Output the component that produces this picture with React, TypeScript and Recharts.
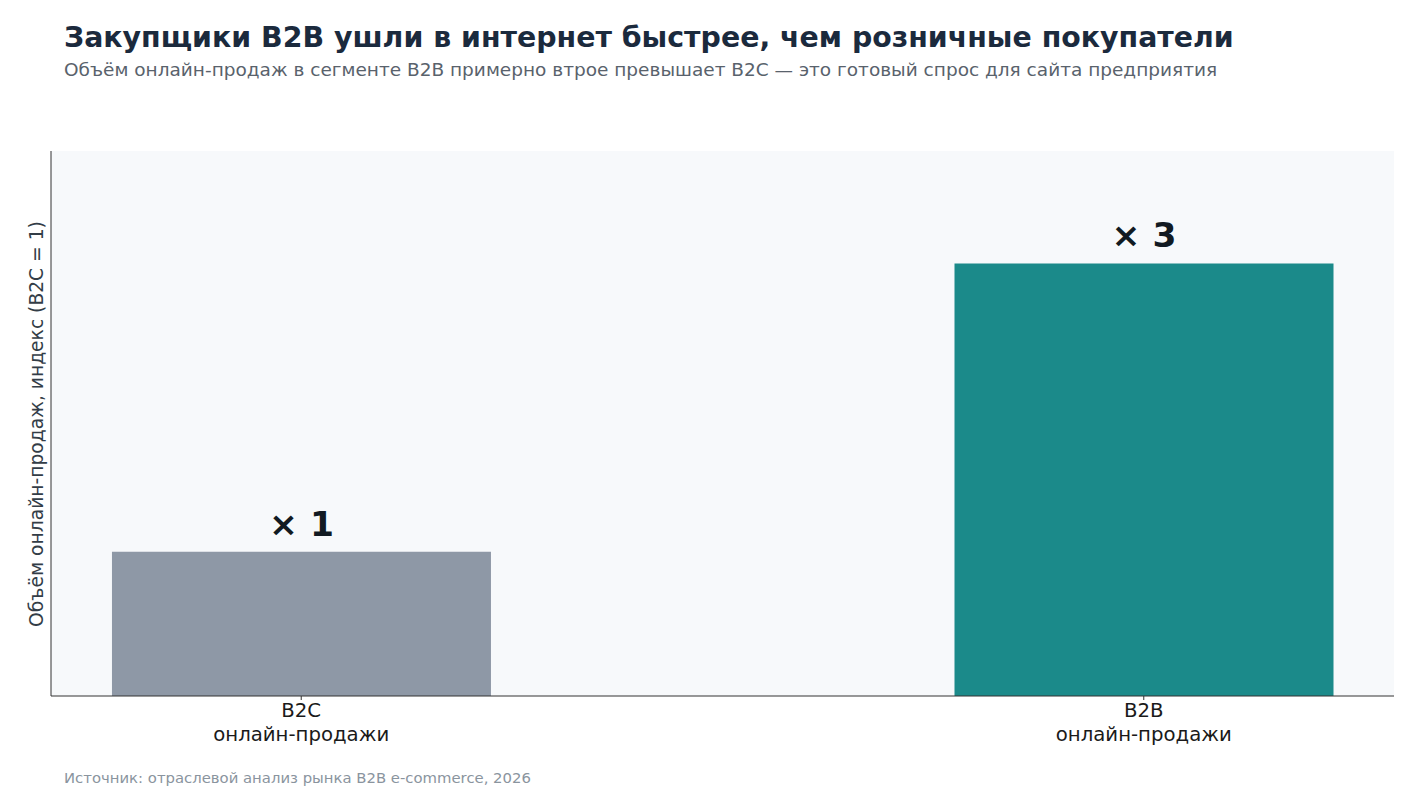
import { Bar, BarChart, CartesianGrid, Cell, LabelList, XAxis, YAxis } from "recharts";

const categories = ["B2C", "B2B"];
const subLabels = ["онлайн-продажи", "онлайн-продажи"];
const values = [1, 3];
const valueLabels = ["× 1", "× 3"];
const colors = ["#8e98a6", "#1b8a8a"];

const FONT = "'DejaVu Sans', sans-serif";

const data = categories.map((c, i) => ({
  x: i,
  name: c,
  value: values[i],
}));

function XTick(props: any) {
  const { x, y, payload } = props;
  const i = payload.value as number;
  return (
    <text x={x} y={y} textAnchor="middle" fontFamily={FONT} fontSize={19.7} fill="#1a1a1a">
      <tspan x={x} dy={15}>
        {categories[i]}
      </tspan>
      <tspan x={x} dy={24}>
        {subLabels[i]}
      </tspan>
    </text>
  );
}

function ValueLabel(props: any) {
  const { x, y, width, index } = props;
  return (
    <text
      x={x + width / 2}
      y={y - 16}
      textAnchor="middle"
      fontFamily={FONT}
      fontSize={34.5}
      fontWeight="bold"
      fill="#111a22"
    >
      {valueLabels[index]}
    </text>
  );
}

export default function App() {
  return (
    <div
      style={{
        position: "absolute",
        left: 0,
        top: 0,
        width: 1422,
        height: 800,
        background: "#ffffff",
        fontFamily: FONT,
      }}
    >
      <div
        style={{
          position: "absolute",
          left: 64,
          top: 21,
          fontSize: 28.4,
          fontWeight: "bold",
          color: "#1b2a3d",
          whiteSpace: "nowrap",
        }}
      >
        Закупщики B2B ушли в интернет быстрее, чем розничные покупатели
      </div>
      <div
        style={{
          position: "absolute",
          left: 64,
          top: 59,
          fontSize: 18.5,
          color: "#59626c",
          whiteSpace: "nowrap",
        }}
      >
        Объём онлайн-продаж в сегменте B2B примерно втрое превышает B2C — это готовый спрос для сайта предприятия
      </div>
      <BarChart
        width={1422}
        height={800}
        data={data}
        margin={{ top: 151, right: 28, bottom: 74, left: 50 }}
      >
        <CartesianGrid fill="#f7f9fb" stroke="none" horizontal={false} vertical={false} />
        <XAxis
          type="number"
          dataKey="x"
          domain={[-0.297, 1.297]}
          ticks={[0, 1]}
          allowDataOverflow
          axisLine={{ stroke: "#333333" }}
          tickLine={{ stroke: "#333333" }}
          tickSize={4}
          tick={<XTick />}
          interval={0}
        />
        <YAxis
          width={1}
          domain={[0, 3.78]}
          allowDataOverflow
          tick={false}
          tickLine={false}
          axisLine={{ stroke: "#333333" }}
        />
        <Bar dataKey="value" barSize={379} isAnimationActive={false}>
          {data.map((d, i) => (
            <Cell key={d.name} fill={colors[i]} />
          ))}
          <LabelList dataKey="value" content={<ValueLabel />} />
        </Bar>
      </BarChart>
      <div
        style={{
          position: "absolute",
          left: 36,
          top: 424,
          transform: "translate(-50%, -50%) rotate(-90deg)",
          fontSize: 18.7,
          color: "#333d47",
          whiteSpace: "nowrap",
        }}
      >
        Объём онлайн-продаж, индекс (B2C = 1)
      </div>
      <div
        style={{
          position: "absolute",
          left: 64,
          top: 769,
          fontSize: 14.85,
          color: "#8a949e",
          whiteSpace: "nowrap",
        }}
      >
        Источник: отраслевой анализ рынка B2B e-commerce, 2026
      </div>
    </div>
  );
}
